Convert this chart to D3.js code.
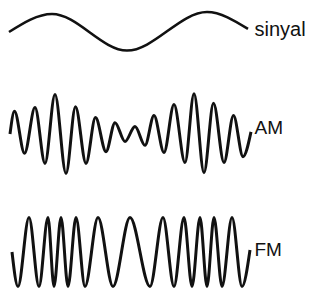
<!DOCTYPE html>
<html>
<head>
<meta charset="utf-8">
<script src="https://cdn.jsdelivr.net/npm/d3@7"></script>
<style>
  body { margin: 0; background: #fff; }
  svg { display: block; }
</style>
</head>
<body>
<div id="chart"></div>
<script>
// waveforms: time (arbitrary units) and relative amplitude
var signalT = [-1, 42, 117, 197, 238];
var signalA = [0, 1, -1.03, 1.11, 0.17];

var amT = [0, 4.5, 14.5, 25, 35, 45, 56, 65.5, 76, 85.5, 96, 105, 115, 125, 135,
           144, 154, 164, 175, 184, 194, 203.5, 214, 223.5, 233, 241];
var amA = [0, 0.54, -0.46, 0.63, -0.70, 0.94, -0.94, 0.65, -0.70, 0.39, -0.42, 0.27, -0.18, 0.18, -0.27,
           0.44, -0.44, 0.70, -0.68, 0.96, -0.92, 0.73, -0.68, 0.44, -0.54, 0.05];

var fmT = [2, 8, 19, 29, 38, 44, 51, 58, 66, 75, 88, 103, 120, 140, 153, 164,
           174, 182, 190, 197, 204, 212, 222, 232, 240];
var fmA = [0, -1, 1, -1, 1, -1, 1, -1, 1, -1, 1, -1, 1, -1, 1, -1,
           1, -1, 1, -1, 1, -1, 1, -1, 0.06];

var labels = ['sinyal', 'AM', 'FM'];

var width = 309;
var height = 290;

var svg = d3.select('#chart').append('svg')
  .attr('width', width)
  .attr('height', height);

var x = d3.scaleLinear().domain([0, 240]).range([10, 250]);

// each panel: its own amplitude scale (mid line, half height)
var panels = [
  { t: signalT, a: signalA, mid: 32, amp: 18, sw: 2.6, label: labels[0], dy: 4, fs: 20 },
  { t: amT, a: amA, mid: 134, amp: 42, sw: 3, label: labels[1], dy: 0, fs: 19 },
  { t: fmT, a: fmA, mid: 252, amp: 34.5, sw: 3, label: labels[2], dy: 4, fs: 19 }
];

panels.forEach(function(p){
  var y = d3.scaleLinear().domain([-1, 1]).range([p.mid + p.amp, p.mid - p.amp]);
  var pts = p.t.map(function(t, i){ return [t, p.a[i]]; });

  var line = d3.line()
    .x(function(d){ return x(d[0]); })
    .y(function(d){ return y(d[1]); })
    .curve(d3.curveMonotoneX);

  svg.append('path')
    .attr('d', line(pts))
    .attr('fill', 'none')
    .attr('stroke', '#111')
    .attr('stroke-width', p.sw)
    .attr('stroke-linecap', 'butt')
    .attr('stroke-linejoin', 'round');

  svg.append('text')
    .attr('x', x(240) + 4.5)
    .attr('y', y(0) + p.dy)
    .attr('font-family', 'Liberation Sans, Arial, sans-serif')
    .attr('font-size', p.fs)
    .attr('fill', '#111')
    .text(p.label);
});
</script>
</body>
</html>
